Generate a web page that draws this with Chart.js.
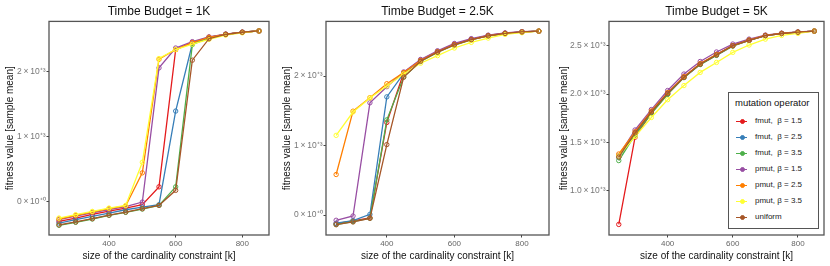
<!DOCTYPE html>
<html>
<head>
<meta charset="utf-8">
<script src="https://cdn.jsdelivr.net/npm/chart.js@4.4.1/dist/chart.umd.min.js"></script>
<style>
  body { margin: 0; width: 830px; height: 266px; background: #fff; position: relative; overflow: hidden;
         font-family: "Liberation Sans", Arial, sans-serif; }
  canvas { position: absolute; top: 0; }
  #legend { position: absolute; left: 728px; top: 92px; width: 89px; height: 135px; background: #fff;
            border: 1.3px solid #555; }
  #legend .title { position: absolute; left: 6px; top: 4px; font-size: 9.5px; color: #111; white-space: nowrap; }
  #legend .row { position: absolute; left: 6px; height: 12px; width: 84px; }
  #legend .line { position: absolute; left: 1px; top: 5.5px; width: 11px; height: 1.3px; }
  #legend .dot { position: absolute; left: 4.5px; top: 4px; width: 3px; height: 3px; border-radius: 50%; border: 1px solid; }
  #legend .lbl { position: absolute; left: 20px; top: 0px; font-size: 8px; line-height: 12px; color: #222; white-space: pre; }
</style>
</head>
<body>
<canvas id="c1" width="277" height="266" style="left:0px"></canvas>
<canvas id="c2" width="277" height="266" style="left:277px"></canvas>
<canvas id="c3" width="276" height="266" style="left:554px"></canvas>
<div id="legend"></div>
<script>
// cardinality constraint k
const ks = [250, 300, 350, 400, 450, 500, 550, 600, 650, 700, 750, 800, 850];

const seriesNames = ["fmut,  β = 1.5", "fmut,  β = 2.5", "fmut,  β = 3.5",
                     "pmut, β = 1.5", "pmut, β = 2.5", "pmut, β = 3.5", "uniform"];
const seriesColors = ["#E41A1C", "#377EB8", "#4DAF4A", "#984EA3", "#FF7F00", "#FFFF33", "#A65628"];

// Timbe Budget = 1K
const fmut15_1K = [-306, -255, -200, -150, -102, -51, 224, 2332, 2440, 2525, 2568, 2599, 2619];
const fmut25_1K = [-332, -280, -230, -180, -128, -87, -51, 1388, 2423, 2520, 2568, 2599, 2619];
const fmut35_1K = [-367, -321, -270, -214, -168, -117, -61, 224, 2408, 2515, 2568, 2599, 2619];
const pmut15_1K = [-280, -225, -175, -125, -80, -10, 2052, 2357, 2455, 2527, 2572, 2602, 2619];
const pmut25_1K = [-270, -215, -165, -112, -70, 439, 2184, 2334, 2440, 2520, 2568, 2599, 2619];
const pmut35_1K = [-255, -204, -153, -102, -61, 602, 2196, 2334, 2415, 2491, 2555, 2590, 2619];
const uniform_1K = [-360, -315, -265, -210, -163, -112, -61, 170, 2170, 2500, 2565, 2599, 2619];

// Timbe Budget = 2.5K
const fmut15_25K = [-125, -85, -40, 1332, 2050, 2230, 2355, 2460, 2530, 2585, 2618, 2638, 2648];
const fmut25_25K = [-118, -80, 9, 1701, 2040, 2225, 2350, 2455, 2528, 2582, 2616, 2636, 2648];
const fmut35_25K = [-137, -95, -47, 1370, 1986, 2210, 2340, 2448, 2522, 2578, 2614, 2635, 2648];
const pmut15_25K = [-76, -14, 1616, 1848, 2060, 2240, 2365, 2470, 2540, 2590, 2622, 2640, 2648];
const pmut25_25K = [583, 1495, 1690, 1891, 2050, 2225, 2350, 2455, 2525, 2580, 2615, 2635, 2648];
const pmut35_25K = [1147, 1483, 1686, 1858, 2030, 2186, 2295, 2405, 2486, 2548, 2600, 2625, 2648];
const uniform_25K = [-140, -100, -48, 1014, 1986, 2215, 2345, 2450, 2525, 2580, 2615, 2636, 2648];

// Timbe Budget = 5K
const fmut15_5K = [653, 1554, 1805, 2000, 2173, 2310, 2405, 2500, 2556, 2604, 2626, 2640, 2651];
const fmut25_5K = [1347, 1590, 1810, 2005, 2175, 2310, 2405, 2500, 2558, 2605, 2627, 2640, 2651];
const fmut35_5K = [1313, 1578, 1799, 1997, 2170, 2305, 2400, 2496, 2555, 2603, 2626, 2640, 2651];
const pmut15_5K = [1364, 1629, 1840, 2037, 2207, 2337, 2435, 2517, 2568, 2610, 2630, 2642, 2651];
const pmut25_5K = [1381, 1610, 1825, 2015, 2180, 2315, 2410, 2500, 2558, 2606, 2627, 2640, 2651];
const pmut35_5K = [1360, 1561, 1758, 1942, 2088, 2224, 2327, 2431, 2507, 2568, 2606, 2627, 2651];
const uniform_5K = [1350, 1600, 1815, 2008, 2173, 2310, 2405, 2500, 2556, 2604, 2626, 2640, 2651];

// tick labels
const xTicks = [400, 600, 800];
const yTicks1K = [0, 1000, 2000];
const yTickLabels1K = ["0\u2009×\u200910⁺⁰", "1\u2009×\u200910⁺³", "2\u2009×\u200910⁺³"];
const yTicks25K = [0, 1000, 2000];
const yTickLabels25K = ["0\u2009×\u200910⁺⁰", "1\u2009×\u200910⁺³", "2\u2009×\u200910⁺³"];
const yTicks5K = [1000, 1500, 2000, 2500];
const yTickLabels5K = ["1.0\u2009×\u200910⁺³", "1.5\u2009×\u200910⁺³", "2.0\u2009×\u200910⁺³", "2.5\u2009×\u200910⁺³"];

const FONT = "'Liberation Sans', Arial, sans-serif";

const panelBorder = {
  id: "panelBorder",
  afterDraw(chart) {
    const { ctx, chartArea: a } = chart;
    ctx.save();
    ctx.strokeStyle = "#555";
    ctx.lineWidth = 1.3;
    ctx.strokeRect(a.left, a.top, a.right - a.left, a.bottom - a.top);
    ctx.restore();
  },
};

const makePanel = (id, title, series, yMin, yMax, yTicks, yLabels, yWidth, padRight) => {
  const datasets = series.map((vals, i) => ({
    label: seriesNames[i],
    data: vals.map((v, j) => ({ x: ks[j], y: v })),
    borderColor: seriesColors[i],
    backgroundColor: seriesColors[i],
    borderWidth: 1.3,
    pointRadius: 2.2,
    pointBorderWidth: 1,
    pointBackgroundColor: "rgba(255,255,255,0)",
    pointBorderColor: seriesColors[i],
    order: series.length - i,
  }));

  new Chart(document.getElementById(id).getContext("2d"), {
    type: "line",
    data: { datasets },
    options: {
      responsive: false,
      animation: false,
      devicePixelRatio: 1,
      layout: { padding: { left: 0, right: padRight, top: 0, bottom: 0 } },
      plugins: {
        legend: { display: false },
        tooltip: { enabled: false },
        title: {
          display: true,
          text: title,
          fullSize: false,
          color: "#111",
          font: { family: FONT, size: 12, weight: "normal" },
          padding: { top: 4, bottom: 3 },
        },
      },
      scales: {
        x: {
          type: "linear",
          min: 220,
          max: 880,
          afterBuildTicks: (s) => { s.ticks = xTicks.map((v) => ({ value: v })); },
          afterFit: (s) => { s.height = 31; },
          grid: { display: true, drawOnChartArea: false, drawTicks: true, tickLength: 2.5, color: "#444" },
          border: { display: false },
          ticks: { color: "#666", padding: 1, font: { family: FONT, size: 8 } },
          title: {
            display: true,
            text: "size of the cardinality constraint [k]",
            color: "#111",
            font: { family: FONT, size: 10 },
            padding: { top: 0, bottom: 3.5 },
          },
        },
        y: {
          type: "linear",
          min: yMin,
          max: yMax,
          afterBuildTicks: (s) => { s.ticks = yTicks.map((v) => ({ value: v })); },
          afterFit: (s) => { s.width = yWidth; },
          grid: { display: true, drawOnChartArea: false, drawTicks: true, tickLength: 2.5, color: "#444" },
          border: { display: false },
          ticks: {
            color: "#777",
            padding: 1,
            font: { family: FONT, size: 8.5 },
            callback: (v) => yLabels[yTicks.indexOf(v)],
          },
          title: {
            display: true,
            text: "fitness value [sample mean]",
            color: "#111",
            font: { family: FONT, size: 10 },
            padding: { top: 4, bottom: 0 },
          },
        },
      },
    },
    plugins: [panelBorder],
  });
};

makePanel("c1", "Timbe Budget = 1K",
  [fmut15_1K, fmut25_1K, fmut35_1K, pmut15_1K, pmut25_1K, pmut35_1K, uniform_1K],
  -516, 2766, yTicks1K, yTickLabels1K, 49, 8);
makePanel("c2", "Timbe Budget = 2.5K",
  [fmut15_25K, fmut25_25K, fmut35_25K, pmut15_25K, pmut25_25K, pmut35_25K, uniform_25K],
  -288, 2788, yTicks25K, yTickLabels25K, 49, 5);
makePanel("c3", "Timbe Budget = 5K",
  [fmut15_5K, fmut25_5K, fmut35_5K, pmut15_5K, pmut25_5K, pmut35_5K, uniform_5K],
  544, 2751, yTicks5K, yTickLabels5K, 55, 6);

// legend
const legend = document.getElementById("legend");
legend.innerHTML = `<div class="title">mutation operator</div>` +
  seriesNames.map((name, i) => `
    <div class="row" style="top:${22 + i * 16}px">
      <div class="line" style="background:${seriesColors[i]}"></div>
      <div class="dot" style="border-color:${seriesColors[i]};background:${seriesColors[i]}"></div>
      <div class="lbl">${name}</div>
    </div>`).join("");
</script>
</body>
</html>
